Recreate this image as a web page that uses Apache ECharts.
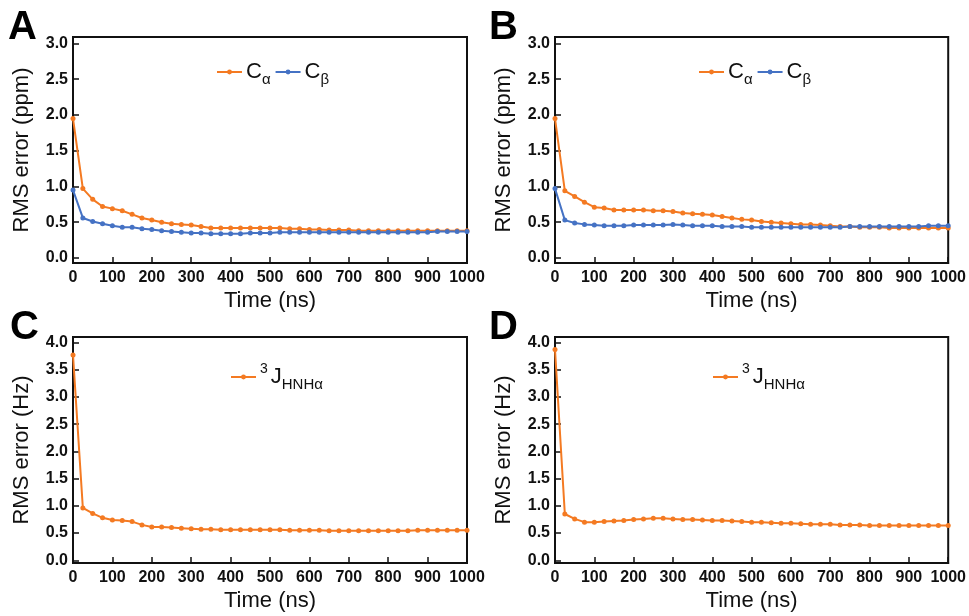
<!DOCTYPE html>
<html><head><meta charset="utf-8">
<script src="https://cdn.jsdelivr.net/npm/echarts@6/dist/echarts.min.js"></script>
<style>html,body{margin:0;padding:0;background:#fff}#c{width:969px;height:616px}</style>
</head><body><div id="c"></div>
<script>
const time = [0,25,50,75,100,125,150,175,200,225,250,275,300,325,350,375,400,425,450,475,500,525,550,575,600,625,650,675,700,725,750,775,800,825,850,875,900,925,950,975,1000];
const xTicks = [0,100,200,300,400,500,600,700,800,900,1000];
const yTicksPpm = [0,0.5,1.0,1.5,2.0,2.5,3.0];
const yTicksHz = [0,0.5,1.0,1.5,2.0,2.5,3.0,3.5,4.0];
const panelLetters = ['A','B','C','D'];

const aCa = [1.95,0.97,0.82,0.72,0.69,0.66,0.61,0.56,0.53,0.50,0.48,0.47,0.46,0.44,0.42,0.42,0.42,0.42,0.42,0.42,0.42,
             0.42,0.41,0.41,0.40,0.40,0.39,0.39,0.39,0.38,0.38,0.38,0.38,0.38,0.38,0.38,0.38,0.38,0.38,0.38,0.38];
const aCb = [0.95,0.56,0.51,0.48,0.45,0.43,0.43,0.41,0.40,0.38,0.37,0.36,0.35,0.35,0.34,0.34,0.34,0.34,0.35,0.35,0.35,
             0.36,0.36,0.36,0.36,0.36,0.36,0.36,0.36,0.36,0.36,0.36,0.36,0.36,0.36,0.36,0.36,0.37,0.37,0.37,0.37];
const bCa = [1.95,0.94,0.86,0.78,0.71,0.70,0.67,0.67,0.67,0.67,0.66,0.66,0.65,0.63,0.62,0.61,0.60,0.58,0.56,0.54,0.53,
             0.51,0.50,0.49,0.48,0.47,0.47,0.46,0.45,0.44,0.44,0.43,0.43,0.43,0.42,0.42,0.42,0.42,0.42,0.42,0.42];
const bCb = [0.97,0.53,0.49,0.47,0.46,0.45,0.45,0.45,0.46,0.46,0.46,0.46,0.47,0.46,0.45,0.45,0.45,0.44,0.44,0.44,0.43,
             0.43,0.43,0.43,0.43,0.43,0.43,0.43,0.43,0.43,0.44,0.44,0.44,0.44,0.44,0.44,0.44,0.44,0.45,0.45,0.45];
const cJ  = [3.77,0.96,0.86,0.78,0.74,0.73,0.71,0.65,0.61,0.61,0.60,0.59,0.58,0.57,0.57,0.56,0.56,0.56,0.56,0.56,0.56,
             0.56,0.55,0.55,0.55,0.55,0.54,0.54,0.54,0.54,0.54,0.54,0.54,0.54,0.54,0.55,0.55,0.55,0.55,0.55,0.55];
const dJ  = [3.87,0.85,0.76,0.70,0.70,0.71,0.72,0.73,0.75,0.76,0.77,0.77,0.76,0.75,0.75,0.74,0.73,0.73,0.72,0.71,0.70,
             0.70,0.69,0.68,0.68,0.67,0.66,0.66,0.66,0.65,0.65,0.65,0.64,0.64,0.64,0.64,0.64,0.64,0.64,0.64,0.64];

const ORANGE = '#F47A22', BLUE = '#4572C4';
const FONT = "'Liberation Sans', Arial, sans-serif";
const pair = (xs, ys) => xs.map((x, i) => [x, ys[i]]);

const grids = [
  {left: 73, top: 37, width: 394, height: 226},
  {left: 555, top: 37, width: 394, height: 226},
  {left: 73, top: 337, width: 394, height: 226},
  {left: 555, top: 337, width: 394, height: 226}
];

const chart = echarts.init(document.getElementById('c'));

const xAxes = grids.map((g, i) => ({
  type: 'value', gridIndex: i, min: 0, max: 1000, interval: 100,
  name: 'Time (ns)', nameLocation: 'middle', nameGap: 27,
  nameTextStyle: {fontFamily: FONT, fontSize: 22, color: '#111'},
  axisLine: {show: true, onZero: false, lineStyle: {color: '#111', width: 2}},
  axisTick: {show: true, inside: true, length: 6, customValues: xTicks, lineStyle: {color: '#111', width: 1.5}},
  axisLabel: {margin: 7, customValues: xTicks, formatter: v => String(v),
    fontFamily: FONT, fontSize: 16, fontWeight: 'bold', color: '#111'},
  splitLine: {show: false}
}));

const yAxes = grids.map((g, i) => {
  const ppm = i < 2;
  return {
    type: 'value', gridIndex: i,
    min: ppm ? -0.07 : -0.05, max: ppm ? 3.09 : 4.1,
    name: ppm ? 'RMS error (ppm)' : 'RMS error (Hz)', nameLocation: 'middle', nameGap: 40,
    nameTextStyle: {fontFamily: FONT, fontSize: 22, color: '#111'},
    axisLine: {show: true, onZero: false, lineStyle: {color: '#111', width: 2}},
    axisTick: {show: true, inside: true, length: 6, customValues: ppm ? yTicksPpm : yTicksHz, lineStyle: {color: '#111', width: 1.5}},
    axisLabel: {margin: 5, customValues: ppm ? yTicksPpm : yTicksHz, formatter: v => v.toFixed(1),
      fontFamily: FONT, fontSize: 16, fontWeight: 'bold', color: '#111'},
    splitLine: {show: false}
  };
});

const mkSeries = (name, data, color, gi) => ({
  name, type: 'line', xAxisIndex: gi, yAxisIndex: gi, data,
  symbol: 'circle', symbolSize: 5, showSymbol: true,
  lineStyle: {color, width: 2}, itemStyle: {color},
  emphasis: {disabled: true}, animation: false
});

const series = [
  mkSeries('Cα', pair(time, aCa), ORANGE, 0),
  mkSeries('Cβ', pair(time, aCb), BLUE, 0),
  mkSeries('Cα', pair(time, bCa), ORANGE, 1),
  mkSeries('Cβ', pair(time, bCb), BLUE, 1),
  mkSeries('3JHNHα', pair(time, cJ), ORANGE, 2),
  mkSeries('3JHNHα', pair(time, dJ), ORANGE, 3)
];

const rich = {
  m: {fontFamily: FONT, fontSize: 22, lineHeight: 26, color: '#111'},
  s: {fontFamily: FONT, fontSize: 15, lineHeight: 15, verticalAlign: 'bottom', color: '#111', padding: [0, 0, -2, 0]},
  u: {fontFamily: FONT, fontSize: 14, lineHeight: 14, verticalAlign: 'top', color: '#111', padding: [-2, 3, 0, 0]}
};
const legendFmt = name => {
  if (name === 'Cα') return '{m|C}{s|α}';
  if (name === 'Cβ') return '{m|C}{s|β}';
  return '{u|3}{m|J}{s|HNHα}';
};
const mkLegend = (left, top, data) => ({
  left, top, data, itemWidth: 25, itemHeight: 6, itemGap: 4,
  formatter: legendFmt, textStyle: {rich, padding: [0, 0, 0, -1]},
  selectedMode: false
});

const legend = [
  mkLegend(211, 56, ['Cα', 'Cβ']),
  mkLegend(693, 56, ['Cα', 'Cβ']),
  mkLegend(225, 357, ['3JHNHα']),
  mkLegend(707, 357, ['3JHNHα'])
];

const letterPos = [[8, 8], [489, 8], [10, 308], [489, 308]];
const title = panelLetters.map((t, i) => ({
  text: t, left: letterPos[i][0], top: letterPos[i][1], padding: 0,
  textStyle: {fontFamily: FONT, fontSize: 40, fontWeight: 'bold', color: '#000'}
}));

chart.setOption({
  animation: false,
  title,
  grid: grids.map(g => Object.assign({show: true, borderColor: '#111', borderWidth: 2, backgroundColor: 'transparent'}, g)),
  xAxis: xAxes, yAxis: yAxes, legend, series
});
</script></body></html>
